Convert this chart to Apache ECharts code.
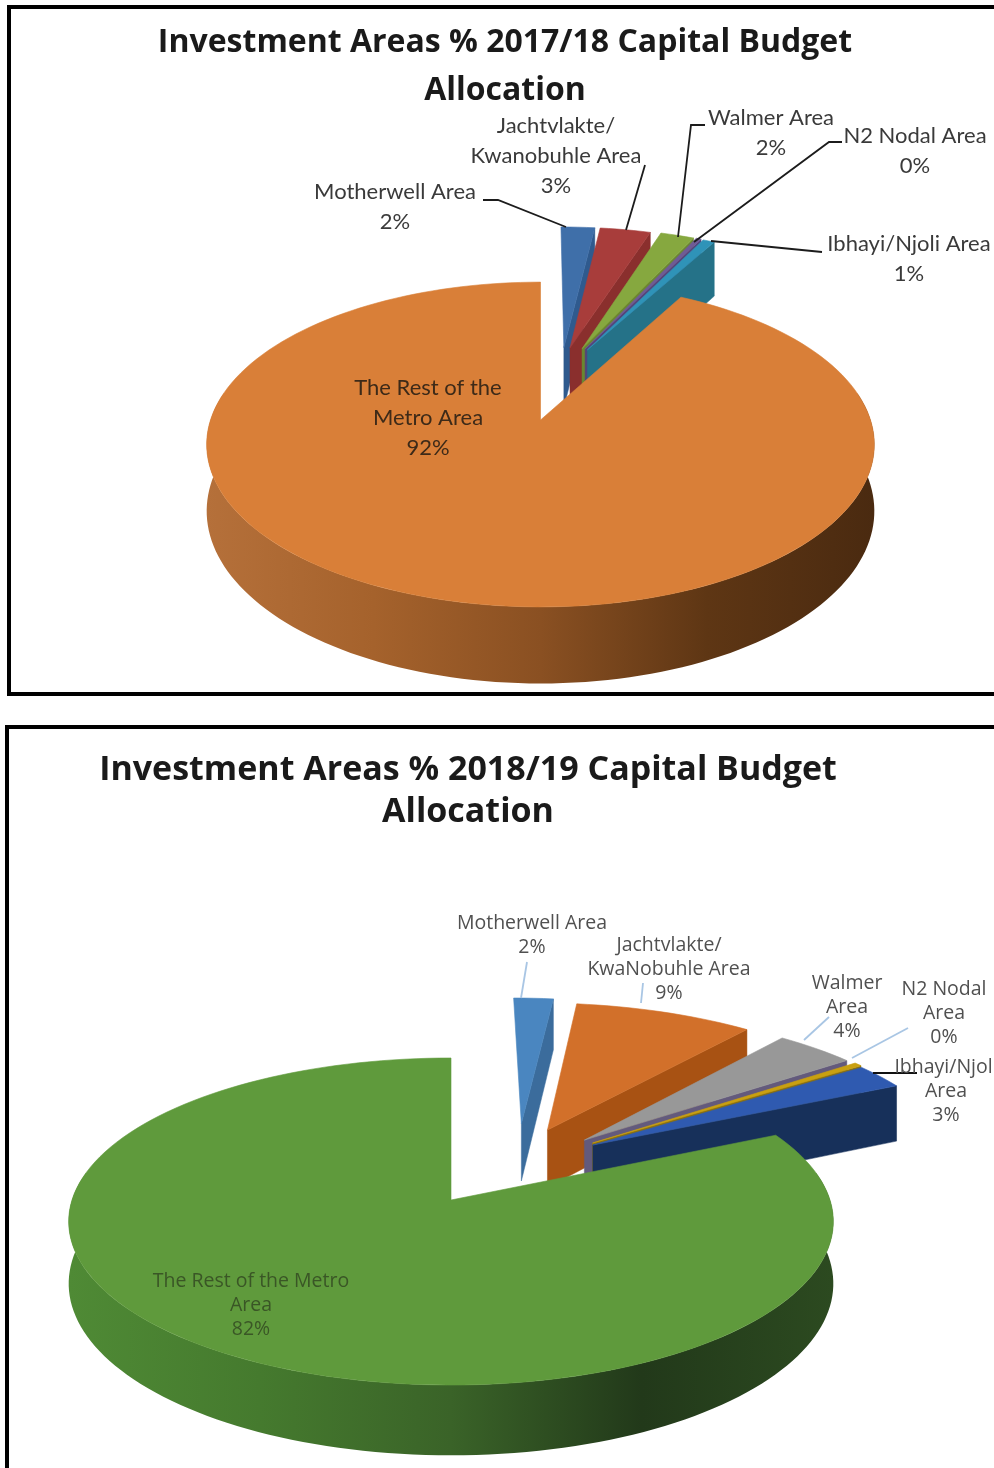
<!DOCTYPE html>
<html><head><meta charset="utf-8">
<style>html,body{margin:0;padding:0;background:#fff;overflow:hidden}#c{width:994px;height:1468px}</style>
<script src="https://cdn.jsdelivr.net/npm/echarts@6/dist/echarts.min.js"></script>
</head><body><div id="c"></div>
<script>
// ---- data ----
const categories2017 = ['Motherwell Area','Jachtvlakte/\nKwanobuhle Area','Walmer Area','N2 Nodal Area','Ibhayi/Njoli Area','The Rest of the\nMetro Area'];
const values2017 = [2,3,2,0.3,0.7,92];
const categories2018 = ['Motherwell Area','Jachtvlakte/\nKwaNobuhle Area','Walmer\nArea','N2 Nodal\nArea','Ibhayi/Njoli\nArea','The Rest of the Metro\nArea'];
const values2018 = [2,9,4,0.4,2.6,82];
const title2017 = 'Investment Areas % 2017/18 Capital Budget\nAllocation';
const title2018 = 'Investment Areas % 2018/19 Capital Budget\nAllocation';

// ---- layout and style ----
const wallFill = (c) => new echarts.graphic.LinearGradient(0,0,1,0,c.map((col,i)=>({offset:i/(c.length-1),color:col})));
const pie2017 = {
  ax:540.5, ay:420, R:330, Rt:158.7, k:0.151, D:65,
  explode:[[.076,.49],[.096,.488],[.135,.482],[.145,.48],[.152,.473],[0,0]],
  tops:['#3f6fa9','#a83d3b','#86a83f','#6f5a96','#2f93b8','#d97f38'],
  walls:['#2f5a8e','#8a2f2d','#6a8730','#54437a','#257288',['#b5703a','#a5622c','#8a5022','#5e3614','#4a2a10']],
  font:{size:22,family:'Lato',color:'#3a3a3a',lh:30},
  restColor:'#3d2a18',
  labelAt:[[395,207],[556,156],[771,133],[915,151],[909,259],[428,418]],
  leaders:[[[483,200],[498,200],[566,227]],[[645,165],[626,230]],[[705,125],[691,125],[678,237]],[[842,142],[829,142],[694,242]],[[711,241],[822,252]]],
  leaderColor:'#1c1c1c'
};
const pie2018 = {
  ax:451, ay:1200, R:379, Rt:160.7, k:0.1316, D:61,
  explode:[[.198,.506],[.27,.462],[.37,.392],[.392,.372],[.392,.358],[0,0]],
  tops:['#4a86c0','#d2702a','#989898','#c9a010','#2f5ab0','#5f9a3c'],
  walls:['#3b6c9c','#a85213','#635a7c','#8a7010','#17305a',['#4f8a35','#457a2e','#3a6328','#22391a','#2c4a20']],
  font:{size:19.5,family:'Open Sans',color:'#505050',lh:24},
  restColor:'#3a5626',
  labelAt:[[532,935],[669,969],[847,1007],[944,1013],[946,1091],[251,1305]],
  leaders:[[[527,962],[521,998]],[[643,983],[641,1003]],[[829,1017],[804,1040]],[[908,1028],[852,1058]],[[873,1073],[917,1073]]],
  leaderColors:['#a9c6e4','#a9c6e4','#a9c6e4','#a9c6e4','#111111']
};

function sliceRenderer(p, values){
  const total = values.reduce((a,b)=>a+b,0);
  const starts = []; let run = 0;
  values.forEach(v=>{ starts.push(run/total*2*Math.PI); run += v; });
  const proj = (u,v)=>{ const s = 1/(1+p.k*v); return {x:p.ax+p.R*u*s, y:p.ay-p.Rt*v*s, s}; };
  return function(params, api){
    const i = params.dataIndex, val = api.value(1);
    const a0 = starts[i], a1 = a0 + val/total*2*Math.PI;
    const [eu,ev] = p.explode[i];
    const rim = (a)=>proj(eu+Math.sin(a), ev+Math.cos(a));
    const apex = proj(eu,ev);
    const steps = Math.max(2, Math.ceil((a1-a0)/(Math.PI/90)));
    const arc = [];
    for(let j=0;j<=steps;j++) arc.push(rim(a0+(a1-a0)*j/steps));
    const pts = [[apex.x,apex.y]].concat(arc.map(q=>[q.x,q.y]));
    const drop = (q)=>[q.x,q.y+p.D*q.s];
    const children = [];
    const w = p.walls[i];
    if(Array.isArray(w)){
      const f = [], lo = Math.max(a0, 80*Math.PI/180), hi = Math.min(a1, 280*Math.PI/180);
      for(let j=0;j<=120;j++) f.push(rim(lo+(hi-lo)*j/120));
      const band = f.map(q=>[q.x,q.y]).concat(f.slice().reverse().map(drop));
      children.push({type:'polygon',shape:{points:band},style:{fill:wallFill(w)}});
    } else {
      const end = arc[arc.length-1];
      children.push({type:'polygon',shape:{points:[[apex.x,apex.y],[end.x,end.y],drop(end),drop(apex)]},style:{fill:w,stroke:w,lineWidth:.5}});
    }
    children.push({type:'polygon',shape:{points:pts},style:{fill:p.tops[i],stroke:p.tops[i],lineWidth:.6}});
    if(p.leaders[i]){
      children.push({type:'polyline',shape:{points:p.leaders[i]},style:{fill:'none',stroke:p.leaderColors?p.leaderColors[i]:p.leaderColor,lineWidth:1.8}});
    }
    const pct = Math.round(val)+'%';
    const [lx,ly] = p.labelAt[i];
    children.push({type:'text',x:lx,y:ly,z2:50,style:{
      text:api.value(2)+'\n'+pct,
      fontSize:p.font.size,fontFamily:p.font.family,lineHeight:p.font.lh,
      fill:i===5?p.restColor:p.font.color,align:'center',verticalAlign:'middle'}});
    return {type:'group',children};
  };
}
const row = (names,values)=>values.map((v,i)=>[i,v,names[i]]);

const chart = echarts.init(document.getElementById('c'),null,{renderer:'canvas',width:994,height:1468});
chart.setOption({
  animation:false,
  backgroundColor:'#ffffff',
  title:[
    {text:title2017,left:500,top:14,textAlign:'center',textStyle:{fontFamily:'Open Sans',fontWeight:'bold',fontSize:32,lineHeight:48,color:'#1a1a1a'}},
    {text:title2018,left:463,top:744,textAlign:'center',textStyle:{fontFamily:'Open Sans',fontWeight:'bold',fontSize:34,lineHeight:42,color:'#1a1a1a'}}
  ],
  graphic:[
    {type:'rect',shape:{x:9,y:7,width:1000,height:687},style:{fill:'none',stroke:'#000',lineWidth:4}},
    {type:'rect',shape:{x:7,y:727,width:1000,height:800},style:{fill:'none',stroke:'#000',lineWidth:4}}
  ],
  series:[
    {type:'custom',coordinateSystem:'none',silent:true,data:row(categories2017,values2017),renderItem:sliceRenderer(pie2017,values2017),clip:false},
    {type:'custom',coordinateSystem:'none',silent:true,data:row(categories2018,values2018),renderItem:sliceRenderer(pie2018,values2018),clip:false}
  ]
});
</script></body></html>
